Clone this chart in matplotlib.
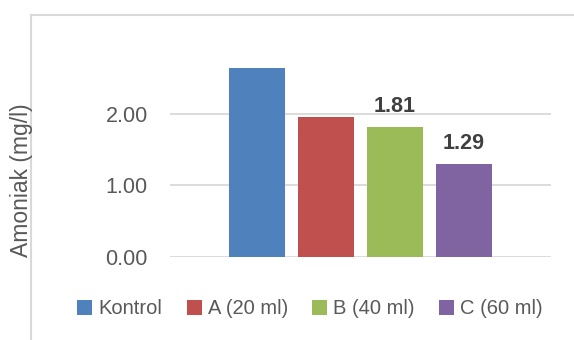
import matplotlib
matplotlib.use("Agg")
import matplotlib.pyplot as plt
from matplotlib.lines import Line2D
from matplotlib.patches import Patch

plt.rcParams['font.family'] = ['Liberation Sans', 'DejaVu Sans']

series = ["Kontrol", "A (20 ml)", "B (40 ml)", "C (60 ml)"]
values = [2.64, 1.95, 1.81, 1.29]
labelled = [False, False, True, True]
colors = ["#4f81bd", "#c0504d", "#9bbb59", "#8064a2"]
yticks = [0.0, 1.0, 2.0]

W, H = 574, 340
fig = plt.figure(figsize=(W / 100, H / 100), dpi=100)

# plot area in pixel coordinates
x0, x1 = 170, 551
y_zero, y_top = 256.7, 42.2
ax = fig.add_axes([x0 / W, (H - y_zero) / H, (x1 - x0) / W, (y_zero - y_top) / H])

pos = list(range(len(series)))
bars = ax.bar(pos, values, width=0.8, color=colors, zorder=3)
for b, v, show in zip(bars, values, labelled):
    if show:
        ax.text(b.get_x() + b.get_width() / 2, v + 0.21, f"{v:.2f}",
                ha="center", va="baseline", fontsize=15.5, fontweight="bold",
                color="#404040")

ax.set_xlim(-1.26, 4.26)
ax.set_ylim(0, 3.0)
ax.set_yticks(yticks)
ax.set_yticklabels([f"{t:.2f}" for t in yticks])
ax.set_xticks([])
ax.tick_params(axis="y", length=0, pad=16, labelsize=15.5, labelcolor="#595959")
ax.grid(axis="y", color="#d9d9d9", linewidth=1.3, zorder=0)
for s in ax.spines.values():
    s.set_visible(False)
ax.set_ylabel("Amoniak (mg/l)", fontsize=16.5, color="#595959")
ax.yaxis.set_label_coords(-(x0 - 33) / (x1 - x0), 0.355)

# chart border (drawn beneath the text)
fig.add_artist(Line2D([31 / W, 31 / W], [0, 1 - 14.6 / H], transform=fig.transFigure,
                      color="#d9d9d9", linewidth=1.5, zorder=-1))
fig.add_artist(Line2D([31 / W, 1.0], [1 - 14.6 / H, 1 - 14.6 / H], transform=fig.transFigure,
                      color="#d9d9d9", linewidth=1.5, zorder=-1))

handles = [Patch(facecolor=c, edgecolor="none") for c in colors]
fig.legend(handles, series, loc="center", bbox_to_anchor=(310 / W, 1 - 309 / H),
           ncol=4, frameon=False, fontsize=14.5, labelcolor="#595959",
           handlelength=0.75, handleheight=0.75, handletextpad=0.3,
           columnspacing=1.2)

fig.savefig("out.png", dpi=100)
